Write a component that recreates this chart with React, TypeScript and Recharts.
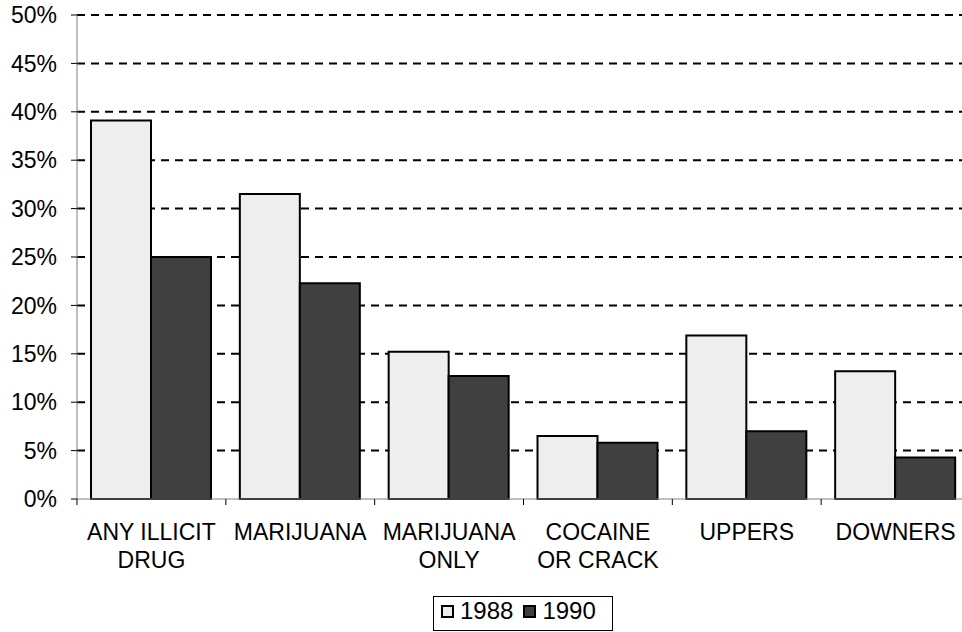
import React from 'react';
import { BarChart, Bar, XAxis, YAxis, CartesianGrid, Legend } from 'recharts';

const FONT = '"Liberation Sans", Arial, sans-serif';

const categories = ['ANY ILLICIT\nDRUG', 'MARIJUANA', 'MARIJUANA\nONLY', 'COCAINE\nOR CRACK', 'UPPERS', 'DOWNERS'];
const values1988 = [39.1, 31.5, 15.2, 6.5, 16.9, 13.2];
const values1990 = [25.0, 22.3, 12.7, 5.8, 7.0, 4.3];
const yTicks = [0, 5, 10, 15, 20, 25, 30, 35, 40, 45, 50];
const seriesNames = ['1988', '1990'];
const seriesColors = ['#eeeeee', '#404040'];

const data = categories.map((name, i) => ({
  name,
  y1988: values1988[i],
  y1990: values1990[i],
}));

// tick marks sit between categories, like the spreadsheet original
const CategoryTick = (props: any) => {
  const { x, y, payload, width, visibleTicksCount } = props;
  let half = payload && payload.offset ? payload.offset : 0;
  if (!half && width && visibleTicksCount) half = width / visibleTicksCount / 2;
  const lines = String(payload.value).split('\n');
  return (
    <g>
      <line x1={x - half} x2={x - half} y1={y} y2={y + 6} stroke="#000" strokeWidth={1} />
      <text x={x} y={y + 41} textAnchor="middle" fontSize={23} fill="#000" fontFamily={FONT}>
        {lines.map((l, i) => (
          <tspan key={i} x={x} dy={i === 0 ? 0 : 27.6}>
            {l}
          </tspan>
        ))}
      </text>
    </g>
  );
};

const LegendBox = () => (
  <div
    style={{
      boxSizing: 'border-box',
      width: 180,
      height: 35,
      border: '1px solid #000',
      background: '#fff',
      display: 'flex',
      alignItems: 'flex-start',
      paddingLeft: 7,
      paddingTop: 1,
      fontFamily: FONT,
      fontSize: 24,
      lineHeight: '26px',
      color: '#000',
    }}
  >
    {seriesNames.map((n, i) => (
      <div key={n} style={{ display: 'flex', alignItems: 'center', marginRight: i === 0 ? 10 : 0 }}>
        <span
          style={{
            display: 'inline-block',
            boxSizing: 'border-box',
            width: 13,
            height: 13,
            border: '2px solid #000',
            background: seriesColors[i],
            marginRight: 6,
          }}
        />
        <span>{n}</span>
      </div>
    ))}
  </div>
);

export default function App() {
  return (
    <div
      style={{
        position: 'absolute',
        top: 0,
        left: 0,
        width: 962,
        height: 632,
        overflow: 'hidden',
        background: '#fff',
        fontFamily: FONT,
      }}
    >
      <BarChart
        width={972}
        height={632}
        data={data}
        margin={{ top: 15, right: 2, left: 0, bottom: 0 }}
        barCategoryGap={14}
        barGap={0}
        style={{ overflow: 'visible' }}
      >
        <CartesianGrid
          vertical={false}
          horizontalValues={yTicks.filter((t) => t > 0)}
          stroke="#000"
          strokeWidth={2}
          strokeDasharray="8 6"
        />
        <XAxis
          dataKey="name"
          interval={0}
          height={133}
          tickSize={0}
          tickMargin={0}
          tickLine={false}
          axisLine={{ stroke: '#808080', strokeWidth: 1 }}
          tick={<CategoryTick />}
        />
        <YAxis
          width={77}
          domain={[0, 50]}
          ticks={yTicks}
          interval={0}
          tickFormatter={(v: number) => `${v}%`}
          tickSize={6}
          tickMargin={14}
          tickLine={{ stroke: '#000' }}
          axisLine={{ stroke: '#808080', strokeWidth: 1 }}
          tick={{ fontSize: 23, fill: '#000', fontFamily: FONT }}
        />
        <Legend
          verticalAlign="middle"
          align="center"
          layout="horizontal"
          wrapperStyle={{ left: 433, top: 596, width: 180, height: 35 }}
          content={<LegendBox />}
        />
        <Bar dataKey="y1988" name="1988" fill={seriesColors[0]} stroke="#000" strokeWidth={2} isAnimationActive={false} />
        <Bar dataKey="y1990" name="1990" fill={seriesColors[1]} stroke="#000" strokeWidth={2} isAnimationActive={false} />
      </BarChart>
    </div>
  );
}
